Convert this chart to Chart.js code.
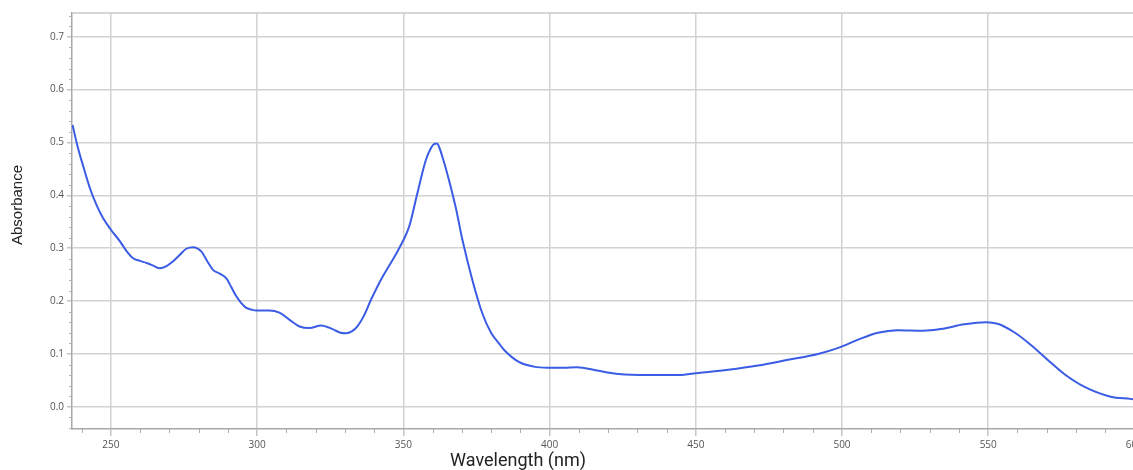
<!DOCTYPE html>
<html>
<head>
<meta charset="utf-8">
<script src="https://cdn.jsdelivr.net/npm/chart.js@4"></script>
<style>
	body { margin: 0; overflow: hidden; background: #fff; }
	#wrap { width: 1146px; height: 470px; }
</style>
</head>
<body>
<div id="wrap"><canvas id="cntx_spectrum" width="1146" height="470"></canvas></div>
<script>
// spectrum
const wavelength = [
	236.9, 238.5, 240.6, 242.8, 245.0, 247.3, 250.0, 253.1, 255.3, 257.6,
	260.0, 262.2, 264.5, 266.7, 269.0, 271.2, 273.5, 275.8, 278.1, 280.9,
	283.0, 284.9, 287.2, 289.5, 291.2, 292.9, 294.6, 296.3, 298.0, 299.7,
	304.2, 307.6, 311.0, 314.5, 317.9, 321.9, 325.8, 328.5, 330.4, 332.5,
	334.3, 336.5, 338.9, 342.9, 345.5, 348.0, 350.0, 352.0, 354.8, 357.7,
	359.5, 360.5, 361.5, 362.2, 363.8, 365.6, 368.0, 370.2, 373.6, 377.0,
	380.0, 382.7, 384.4, 389.5, 394.6, 399.4, 405.0, 409.3, 416.8, 423.6,
	433.8, 444.1, 450.9, 461.1, 471.3, 481.6, 491.8, 499.0, 505.5, 512.3,
	519.1, 527.6, 533.8, 541.8, 549.2, 553.2, 558.9, 564.6, 570.3, 576.0,
	582.8, 591.9, 598.6, 600.2,
];
const absorbance = [
	0.533, 0.495, 0.454, 0.414, 0.383, 0.357, 0.335, 0.313, 0.295, 0.281,
	0.276, 0.272, 0.267, 0.262, 0.266, 0.275, 0.287, 0.299, 0.302, 0.294,
	0.275, 0.259, 0.252, 0.243, 0.226, 0.209, 0.196, 0.187, 0.184, 0.182,
	0.182, 0.178, 0.165, 0.152, 0.149, 0.154, 0.147, 0.140, 0.139, 0.143,
	0.152, 0.172, 0.202, 0.246, 0.270, 0.294, 0.315, 0.341, 0.404, 0.467,
	0.490, 0.497, 0.498, 0.492, 0.465, 0.429, 0.375, 0.316, 0.240, 0.177,
	0.140, 0.120, 0.108, 0.085, 0.076, 0.074, 0.074, 0.075, 0.068, 0.062,
	0.060, 0.060, 0.064, 0.070, 0.078, 0.089, 0.100, 0.112, 0.127, 0.140,
	0.145, 0.144, 0.147, 0.156, 0.160, 0.157, 0.141, 0.117, 0.089, 0.062,
	0.038, 0.019, 0.015, 0.014,
];
const xTicks = [250, 300, 350, 400, 450, 500, 550, 600];
const yTicks = [0, 0.1, 0.2, 0.3, 0.4, 0.5, 0.6, 0.7];
const xTitle = "Wavelength (nm)";
const yTitle = "Absorbance";

// frame, minor ticks and axis titles
const extras = {
	id: "extras",
	afterDraw: (chart) => {
		const ctx = chart.ctx;
		const area = chart.chartArea;
		const xs = chart.scales.x;
		const ys = chart.scales.y;
		ctx.save();
		ctx.strokeStyle = "#b0b0b0";
		ctx.lineWidth = 1;
		ctx.beginPath();
		for (let v = 240; v <= 600; v += 10) {
			if (v % 50 === 0) continue;
			const px = Math.round(xs.getPixelForValue(v)) + 0.5;
			ctx.moveTo(px, area.bottom);
			ctx.lineTo(px, area.bottom + 4);
		}
		for (let i = -2; i <= 37; i++) {
			if (i % 5 === 0) continue;
			const py = Math.round(ys.getPixelForValue(i * 0.02)) + 0.5;
			ctx.moveTo(area.left - 3, py);
			ctx.lineTo(area.left, py);
		}
		ctx.stroke();
		ctx.strokeStyle = "#c8c8c8";
		ctx.lineWidth = 1.5;
		ctx.beginPath();
		ctx.moveTo(area.left, area.top);
		ctx.lineTo(area.right, area.top);
		ctx.stroke();

		ctx.fillStyle = "#222";
		ctx.textAlign = "center";
		ctx.textBaseline = "middle";
		ctx.font = "18px Roboto";
		ctx.fillText(xTitle, 518, 461);
		ctx.translate(18, 205);
		ctx.rotate(-Math.PI / 2);
		ctx.font = "15px 'Liberation Sans'";
		ctx.fillText(yTitle, 0, 0);
		ctx.restore();
	},
};

const drawSpectrum = (canvas) => {
	new Chart(canvas, {
		type: "line",
		data: {
			datasets: [
				{
					data: wavelength.map((w, i) => ({ x: w, y: absorbance[i] })),
					borderColor: "#3b5ce4",
					borderWidth: 2,
					pointRadius: 0,
					cubicInterpolationMode: "monotone",
					fill: false,
				},
			],
		},
		options: {
			responsive: false,
			animation: false,
			layout: { padding: { top: 13, left: 0, right: 0, bottom: 0 } },
			plugins: { legend: { display: false }, tooltip: { enabled: false } },
			scales: {
				x: {
					type: "linear",
					min: 236.7,
					max: 600.3,
					afterBuildTicks: (s) => { s.ticks = xTicks.map((v) => ({ value: v })); },
					afterFit: (s) => { s.height = 41; },
					grid: { color: "#d2d2d2", lineWidth: 1.5, tickLength: 7, tickColor: "#c4c4c4" },
					border: { color: "#a8a8a8", width: 1.5 },
					ticks: {
						color: "#555",
						padding: 3,
						maxRotation: 0,
						font: { family: "'Open Sans'", size: 10 },
					},
				},
				y: {
					type: "linear",
					min: -0.042,
					max: 0.745,
					afterBuildTicks: (s) => { s.ticks = yTicks.map((v) => ({ value: v })); },
					afterFit: (s) => { s.width = 72; },
					grid: { color: "#d2d2d2", lineWidth: 1.5, tickLength: 5, tickColor: "#c4c4c4" },
					border: { color: "#a8a8a8", width: 1.5 },
					ticks: {
						color: "#555",
						padding: 3,
						font: { family: "'Open Sans'", size: 10 },
						callback: (v) => v.toFixed(1),
					},
				},
			},
		},
		plugins: [extras],
	});
};

drawSpectrum(document.querySelector("#cntx_spectrum"));
</script>
</body>
</html>
